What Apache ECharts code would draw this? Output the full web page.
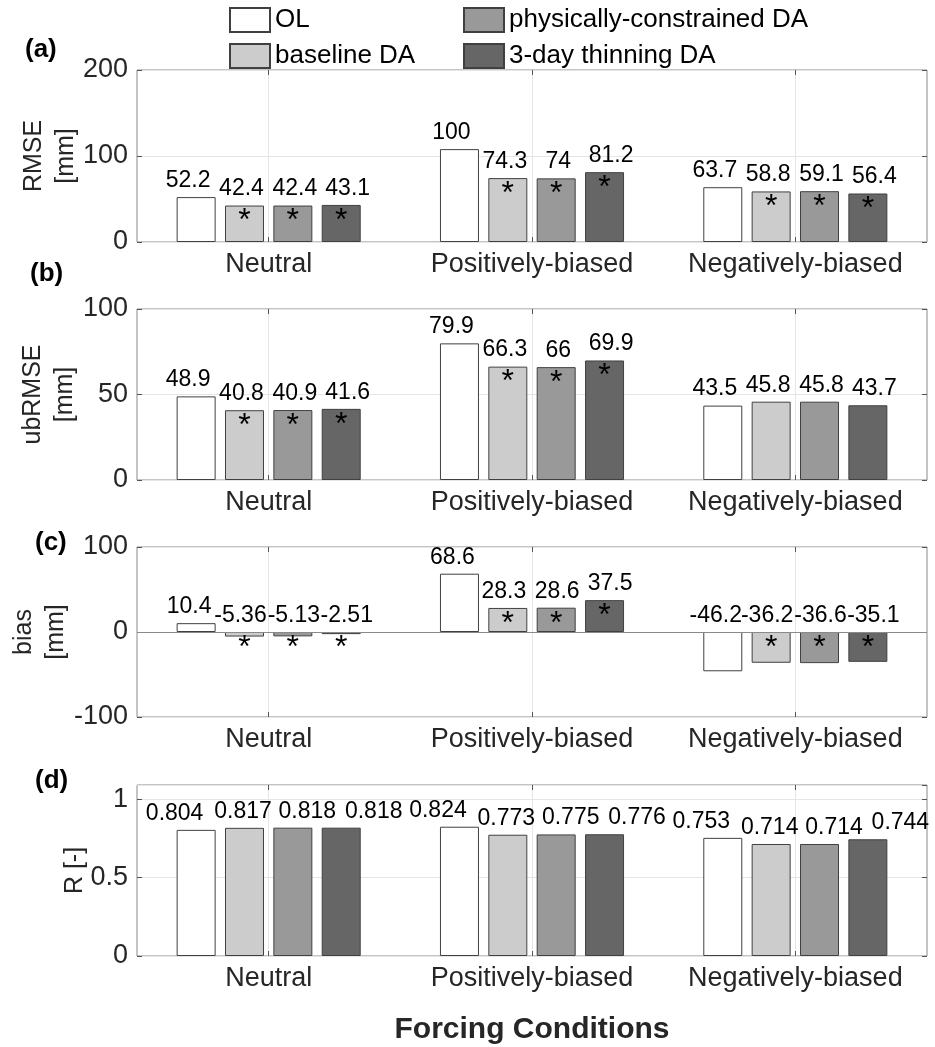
<!DOCTYPE html>
<html><head><meta charset="utf-8">
<script src="https://cdn.jsdelivr.net/npm/echarts@6/dist/echarts.min.js"></script>
<style>html,body{margin:0;padding:0;background:#fff}#c{width:935px;height:1047px}</style>
</head><body><div id="c"></div>
<script>
// ---- data ----
const categories = ['Neutral', 'Positively-biased', 'Negatively-biased'];
const seriesNames = ['OL', 'baseline DA', 'physically-constrained DA', '3-day thinning DA'];

// (a) RMSE [mm]
const rmseOL       = [52.2, 108, 63.7];
const rmseOLText   = ['52.2', '100', '63.7'];   // labels as printed in the figure
const rmseBaseline = [42.4, 74.3, 58.8];
const rmsePhys     = [42.4, 74, 59.1];
const rmseThin     = [43.1, 81.2, 56.4];
const rmseStars    = [[0,0,0],[1,1,1],[1,1,1],[1,1,1]];

// (b) ubRMSE [mm]
const ubOL       = [48.9, 79.9, 43.5];
const ubBaseline = [40.8, 66.3, 45.8];
const ubPhys     = [40.9, 66, 45.8];
const ubThin     = [41.6, 69.9, 43.7];
const ubStars    = [[0,0,0],[1,1,0],[1,1,0],[1,1,0]];

// (c) bias [mm]
const biasOL       = [10.4, 68.6, -46.2];
const biasBaseline = [-5.36, 28.3, -36.2];
const biasPhys     = [-5.13, 28.6, -36.6];
const biasThin     = [-2.51, 37.5, -35.1];
const biasStars    = [[0,0,0],[1,1,1],[1,1,1],[1,1,1]];

// (d) R [-]
const rOL       = [0.804, 0.824, 0.753];
const rBaseline = [0.817, 0.773, 0.714];
const rPhys     = [0.818, 0.775, 0.714];
const rThin     = [0.818, 0.776, 0.744];
const rStars    = [[0,0,0],[0,0,0],[0,0,0],[0,0,0]];

// y-axis tick settings
const yMin = [0, 0, -100, 0];
const yMax = [200, 100, 100, 1.09];
const yInterval = [100, 50, 100, 0.5];
const yNames = ['RMSE\n[mm]', 'ubRMSE\n[mm]', 'bias\n[mm]', 'R [-]'];
const panelLetters = ['(a)', '(b)', '(c)', '(d)'];

// ---- styles / layout ----
const FONT = '"Liberation Sans", Arial, Helvetica, sans-serif';
const colors = ['#ffffff', '#cccccc', '#999999', '#666666'];
const gridTops = [70, 309, 547, 785];
const gridHeights = [172, 171, 170, 171];
const nameGaps = [55, 56, 65, 46];
const letterPos = [[25, 50], [30, 274], [35, 543], [35, 781]];
// horizontal shift of the value labels relative to bar centres (per panel, per series)
const labelDx = [[-8, -3, 2, 6.5], [-8, -3, 2, 6.5], [-7, -4, 1, 5.5], [-21.5, -1.5, 14.5, 32.5]];

const panels = [
  { values: [rmseOL, rmseBaseline, rmsePhys, rmseThin], stars: rmseStars, texts: [rmseOLText, null, null, null] },
  { values: [ubOL, ubBaseline, ubPhys, ubThin], stars: ubStars, texts: [null, null, null, null] },
  { values: [biasOL, biasBaseline, biasPhys, biasThin], stars: biasStars, texts: [null, null, null, null] },
  { values: [rOL, rBaseline, rPhys, rThin], stars: rStars, texts: [null, null, null, null] }
];

const grid = [], xAxis = [], yAxis = [], series = [], graphic = [];
panels.forEach((p, i) => {
  grid.push({ left: 137, right: 8, top: gridTops[i], height: gridHeights[i], show: true,
    borderColor: '#8a8a8a', borderWidth: 1, backgroundColor: 'transparent' });
  xAxis.push({
    type: 'category', gridIndex: i, data: categories, position: 'bottom',
    axisLine: { show: false, onZero: false },
    axisTick: { show: true, inside: true, alignWithLabel: true, length: 5, lineStyle: { color: '#555' } },
    axisLabel: { fontSize: 27, color: '#262626', margin: 9, fontFamily: FONT, interval: 0 },
    splitLine: { show: true, alignWithLabel: true, lineStyle: { color: '#e5e5e5' } },
    name: i === 3 ? 'Forcing Conditions' : '', nameLocation: 'middle', nameGap: 59,
    nameMoveOverlap: false,
    nameTextStyle: { fontSize: 30, fontWeight: 'bold', color: '#262626', fontFamily: FONT }
  });
  xAxis.push({
    type: 'category', gridIndex: i, data: categories, position: 'top',
    axisLine: { show: false, onZero: false },
    axisTick: { show: true, inside: true, alignWithLabel: true, length: 5, lineStyle: { color: '#555' } },
    axisLabel: { show: false }, splitLine: { show: false }
  });
  yAxis.push({
    type: 'value', gridIndex: i, min: yMin[i], max: yMax[i], interval: yInterval[i], position: 'left',
    axisLine: { show: false },
    axisTick: { show: true, inside: true, length: 5, lineStyle: { color: '#555' } },
    axisLabel: { fontSize: 27, color: '#262626', margin: 9, fontFamily: FONT, showMaxLabel: i !== 3 },
    splitLine: { show: true, lineStyle: { color: '#e5e5e5' } },
    name: yNames[i], nameLocation: 'middle', nameGap: nameGaps[i], nameMoveOverlap: false,
    nameTextStyle: { fontSize: 25, lineHeight: 32, color: '#262626', fontFamily: FONT }
  });
  yAxis.push({
    type: 'value', gridIndex: i, min: yMin[i], max: yMax[i], interval: yInterval[i], position: 'right',
    axisLine: { show: false },
    axisTick: { show: true, inside: true, length: 5, lineStyle: { color: '#555' } },
    axisLabel: { show: false }, splitLine: { show: false }
  });
  p.values.forEach((vals, k) => {
    const s = {
      type: 'bar', name: seriesNames[k], xAxisIndex: 2 * i, yAxisIndex: 2 * i,
      data: vals, barWidth: 39, barGap: '24%',
      itemStyle: { color: colors[k], borderColor: '#404040', borderWidth: 1 },
      label: { show: true, position: 'top', distance: 5, offset: [labelDx[i][k], 0],
        fontSize: 23, color: '#000', fontFamily: FONT,
        formatter: (prm) => p.texts[k] ? p.texts[k][prm.dataIndex] : String(prm.value) }
    };
    if (i === 2 && k === 0) {
      s.markLine = { silent: true, symbol: ['none', 'none'], label: { show: false },
        lineStyle: { color: '#8a8a8a', width: 1, type: 'solid' }, data: [{ yAxis: 0 }] };
    }
    series.push(s);
  });
  p.values.forEach((vals, k) => {
    series.push({
      type: 'bar', name: 'sig-' + k, xAxisIndex: 2 * i + 1, yAxisIndex: 2 * i,
      data: vals.map((v, j) => p.stars[k][j] ? v : '-'), barWidth: 39, barGap: '24%',
      itemStyle: { color: 'transparent', borderWidth: 0 },
      label: { show: true, position: 'insideTop', distance: 0, formatter: '*', fontSize: 32,
        lineHeight: 32, color: '#000', fontFamily: FONT }
    });
  });
  graphic.push({ type: 'text', left: letterPos[i][0], top: letterPos[i][1] - 13,
    style: { text: panelLetters[i], font: 'bold 26px ' + FONT, fill: '#000' } });
});

const legendCommon = { orient: 'vertical', itemWidth: 40, itemHeight: 24, itemGap: 10, icon: 'rect',
  selectedMode: false, padding: 0, textStyle: { fontSize: 26, color: '#000', fontFamily: FONT } };

const chart = echarts.init(document.getElementById('c'), null, { renderer: 'canvas' });
chart.setOption({
  animation: false,
  backgroundColor: '#fff',
  textStyle: { fontFamily: FONT },
  legend: [
    Object.assign({ left: 229, top: 7, data: [seriesNames[0], seriesNames[1]] }, legendCommon),
    Object.assign({ left: 463, top: 7, data: [seriesNames[2], seriesNames[3]] }, legendCommon)
  ],
  grid, xAxis, yAxis, series, graphic
});
</script></body></html>
